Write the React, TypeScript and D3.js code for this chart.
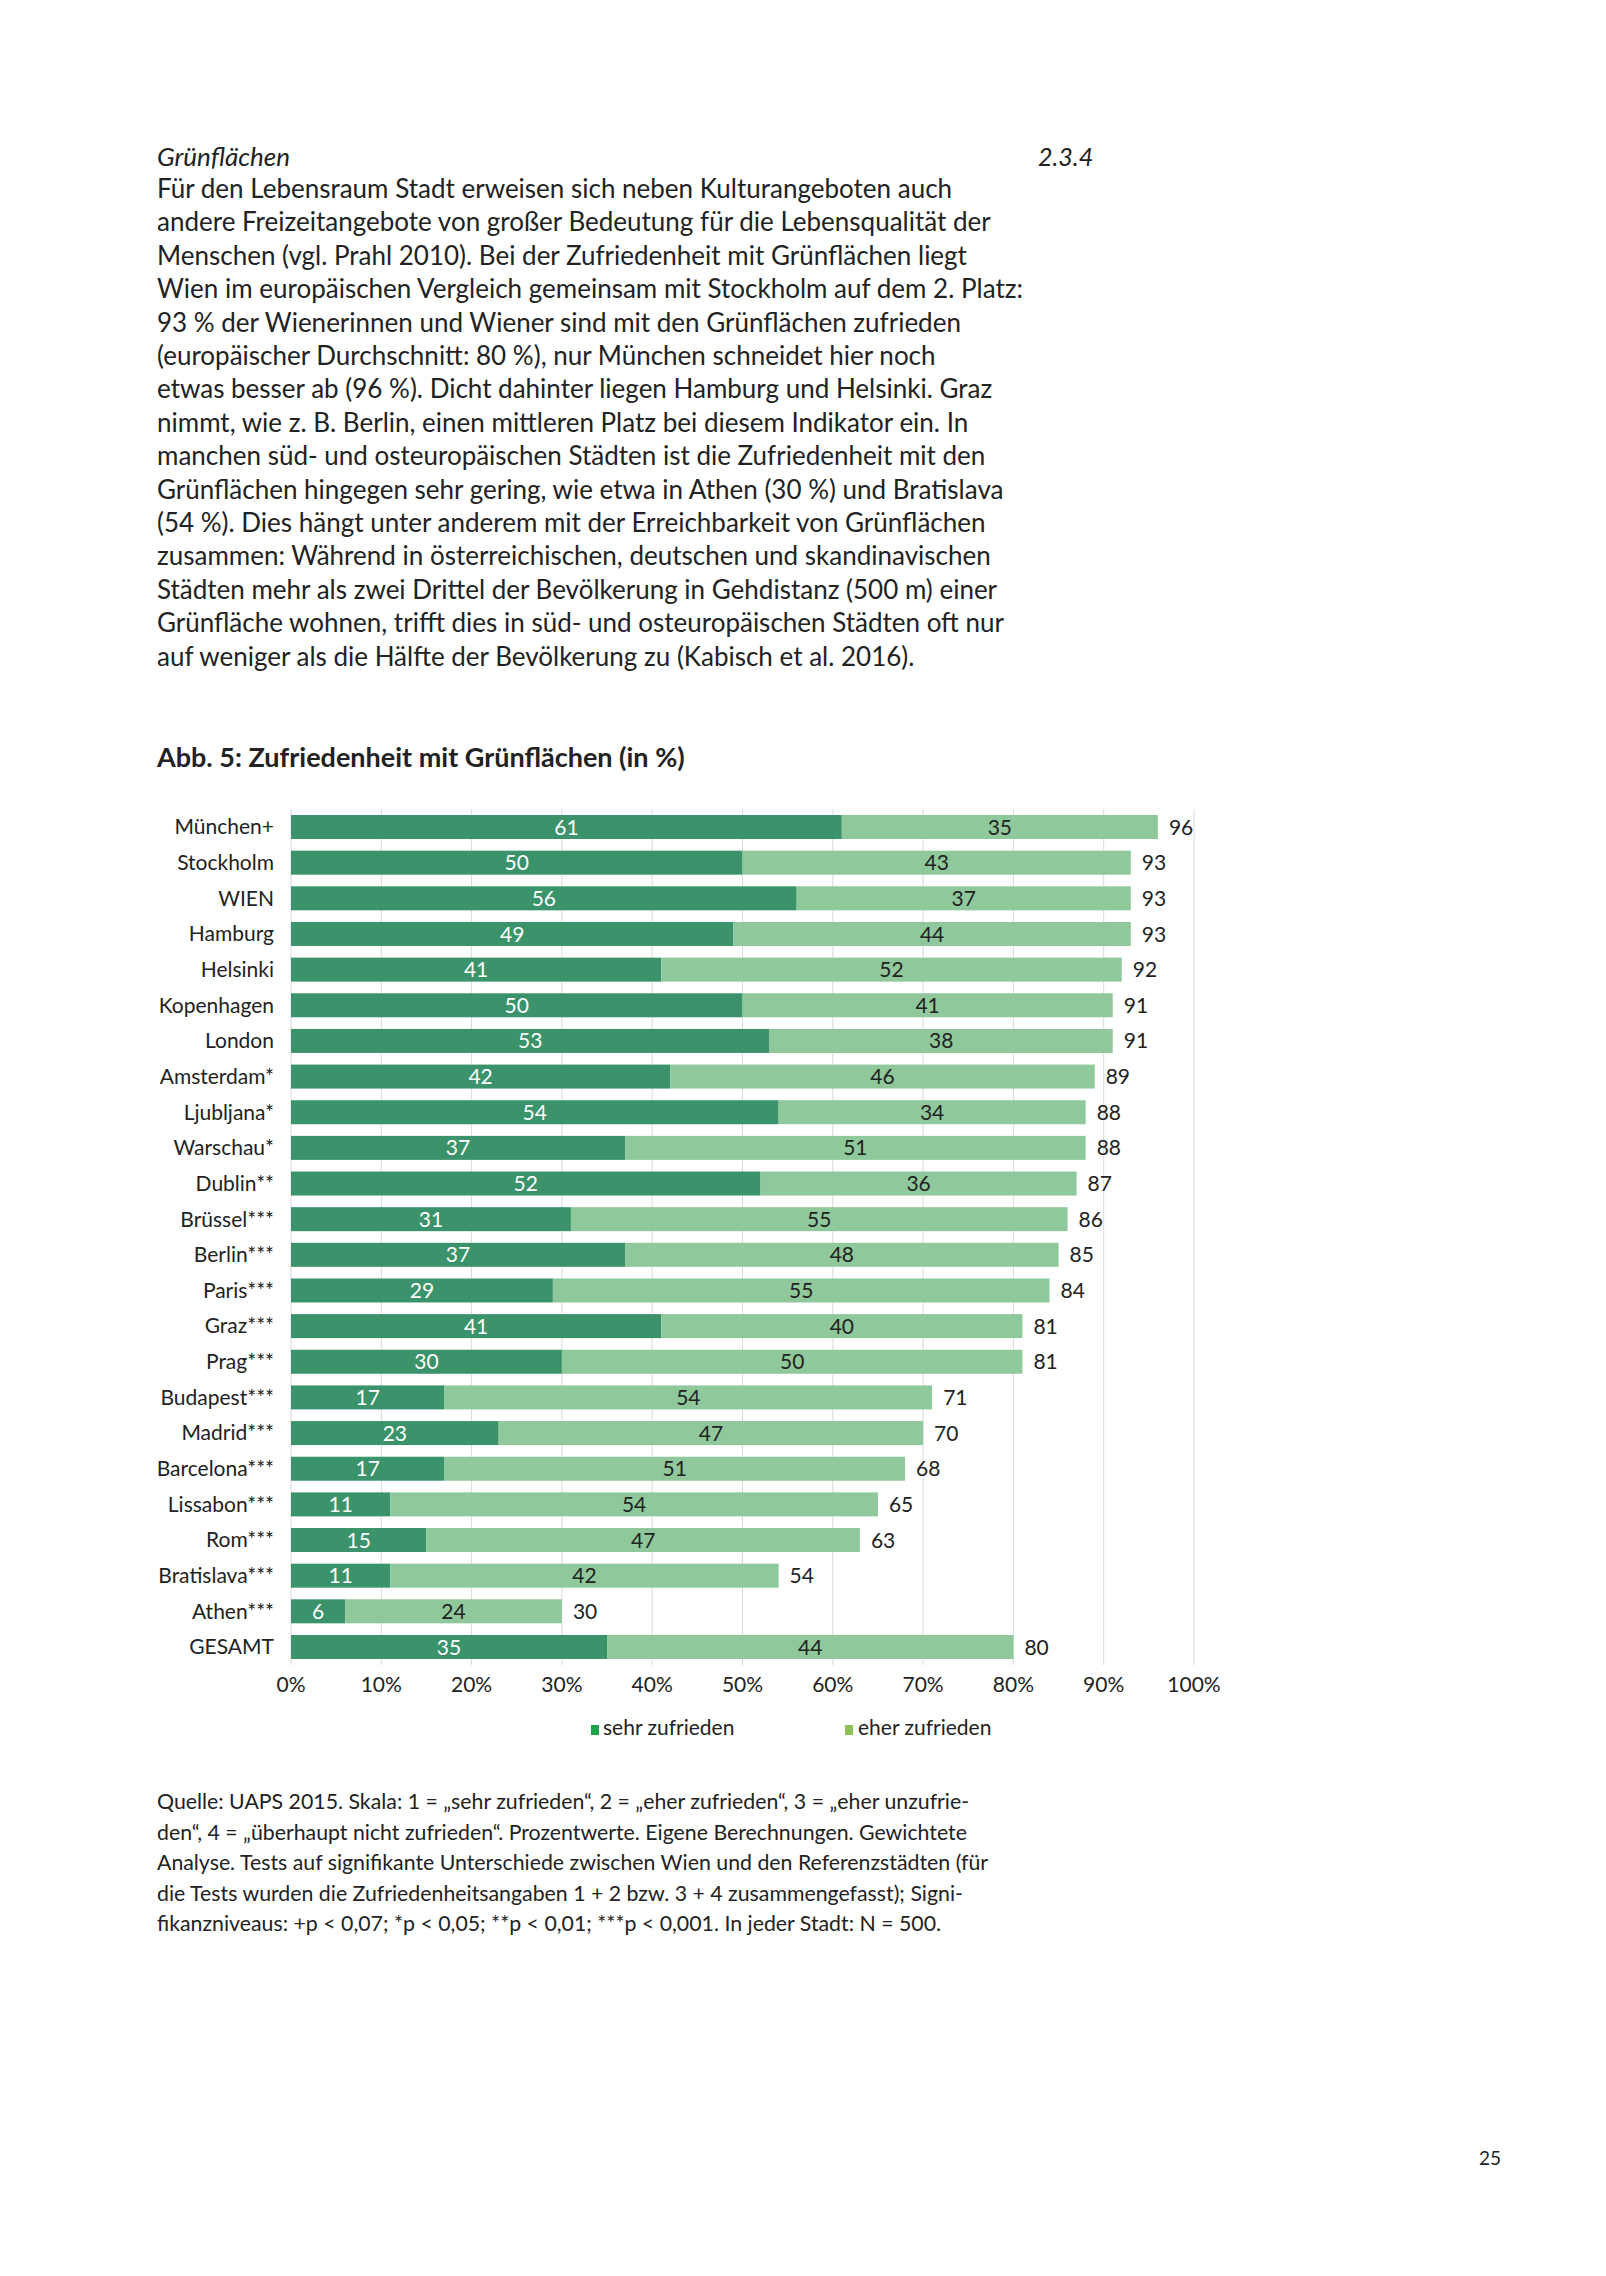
import React from "react";
import * as d3 from "d3";

const cities = ["München+", "Stockholm", "WIEN", "Hamburg", "Helsinki", "Kopenhagen", "London", "Amsterdam*", "Ljubljana*", "Warschau*", "Dublin**", "Brüssel***", "Berlin***", "Paris***", "Graz***", "Prag***", "Budapest***", "Madrid***", "Barcelona***", "Lissabon***", "Rom***", "Bratislava***", "Athen***", "GESAMT"];
const sehrZufrieden = [61, 50, 56, 49, 41, 50, 53, 42, 54, 37, 52, 31, 37, 29, 41, 30, 17, 23, 17, 11, 15, 11, 6, 35];
const eherZufrieden = [35, 43, 37, 44, 52, 41, 38, 46, 34, 51, 36, 55, 48, 55, 40, 50, 54, 47, 51, 54, 47, 42, 24, 44];
const gesamtZufrieden = [96, 93, 93, 93, 92, 91, 91, 89, 88, 88, 87, 86, 85, 84, 81, 81, 71, 70, 68, 65, 63, 54, 30, 80];
const xTicks = [0, 10, 20, 30, 40, 50, 60, 70, 80, 90, 100];
const seriesNames = ["sehr zufrieden", "eher zufrieden"];

const bodyLines = [
  "Für den Lebensraum Stadt erweisen sich neben Kulturangeboten auch",
  "andere Freizeitangebote von großer Bedeutung für die Lebensqualität der",
  "Menschen (vgl. Prahl 2010). Bei der Zufriedenheit mit Grünflächen liegt",
  "Wien im europäischen Vergleich gemeinsam mit Stockholm auf dem 2. Platz:",
  "93 % der Wienerinnen und Wiener sind mit den Grünflächen zufrieden",
  "(europäischer Durchschnitt: 80 %), nur München schneidet hier noch",
  "etwas besser ab (96 %). Dicht dahinter liegen Hamburg und Helsinki. Graz",
  "nimmt, wie z. B. Berlin, einen mittleren Platz bei diesem Indikator ein. In",
  "manchen süd- und osteuropäischen Städten ist die Zufriedenheit mit den",
  "Grünflächen hingegen sehr gering, wie etwa in Athen (30 %) und Bratislava",
  "(54 %). Dies hängt unter anderem mit der Erreichbarkeit von Grünflächen",
  "zusammen: Während in österreichischen, deutschen und skandinavischen",
  "Städten mehr als zwei Drittel der Bevölkerung in Gehdistanz (500 m) einer",
  "Grünfläche wohnen, trifft dies in süd- und osteuropäischen Städten oft nur",
  "auf weniger als die Hälfte der Bevölkerung zu (Kabisch et al. 2016).",
];

const noteLines = [
  "Quelle: UAPS 2015. Skala: 1 = „sehr zufrieden“, 2 = „eher zufrieden“, 3 = „eher unzufrie-",
  "den“, 4 = „überhaupt nicht zufrieden“. Prozentwerte. Eigene Berechnungen. Gewichtete",
  "Analyse. Tests auf signifikante Unterschiede zwischen Wien und den Referenzstädten (für",
  "die Tests wurden die Zufriedenheitsangaben 1 + 2 bzw. 3 + 4 zusammengefasst); Signi-",
  "fikanzniveaus: +p < 0,07; *p < 0,05; **p < 0,01; ***p < 0,001. In jeder Stadt: N = 500.",
];

const FONT = "Lato, 'Noto Sans', sans-serif";
const TXT = "#222222";
const DARK = "#3a936a";
const LIGHT = "#8fc89b";

export default function App() {
  const W = 1606, H = 2276;
  const x = d3.scaleLinear().domain([0, 100]).range([291, 1194]);
  const y = d3.scaleBand<string>().domain(cities).range([809.2, 1664.8]).paddingInner(0.327).paddingOuter(0.1635);
  const bw = y.bandwidth();
  const gridTop = 809, gridBottom = 1665;

  return (
    <svg width={W} height={H} style={{ position: "absolute", left: 0, top: 0, background: "#fff" }} fontFamily={FONT}>
      <rect x={0} y={0} width={W} height={H} fill="#fff" />
      {/* heading */}
      <text x={157} y={166} fontSize={26} fontStyle="italic" fill={TXT}>Grünflächen</text>
      <text x={1038} y={166} fontSize={25} fontStyle="italic" fill={TXT}>2.3.4</text>
      {bodyLines.map((l, i) => (
        <text key={i} x={157} y={198 + i * 33.4} fontSize={26} fill={TXT}>{l}</text>
      ))}
      {/* title */}
      <text x={157} y={767} fontSize={27} fontWeight="bold" fill={TXT}>Abb. 5: Zufriedenheit mit Grünflächen (in %)</text>

      {/* grid */}
      {xTicks.map((t) => (
        <line key={t} x1={x(t)} x2={x(t)} y1={gridTop} y2={gridBottom} stroke="#d9d9d9" strokeWidth={1} />
      ))}
      {xTicks.map((t) => (
        <text key={"t" + t} x={x(t)} y={1692} fontSize={21} textAnchor="middle" fill={TXT}>{t + "%"}</text>
      ))}

      {/* bars */}
      {cities.map((c, i) => {
        const y0 = y(c) as number;
        const cy = y0 + bw / 2;
        const s = sehrZufrieden[i], e = eherZufrieden[i], tot = gesamtZufrieden[i];
        return (
          <g key={c}>
            <text x={274} y={cy} dy="0.35em" fontSize={21} textAnchor="end" fill={TXT}>{c}</text>
            <rect x={x(0)} y={y0} width={x(s) - x(0)} height={bw} fill={DARK} />
            <rect x={x(s)} y={y0} width={x(tot) - x(s)} height={bw} fill={LIGHT} />
            <text x={(x(0) + x(s)) / 2} y={cy} dy="0.36em" fontSize={21} textAnchor="middle" fill="#ffffff">{s}</text>
            <text x={(x(s) + x(tot)) / 2} y={cy} dy="0.36em" fontSize={21} textAnchor="middle" fill={TXT}>{e}</text>
            <text x={x(tot) + 11} y={cy} dy="0.36em" fontSize={21} textAnchor="start" fill={TXT}>{tot}</text>
          </g>
        );
      })}

      {/* legend */}
      <rect x={591} y={1725} width={8} height={10} fill="#1fa24a" />
      <text x={603} y={1735} fontSize={21} fill={TXT}>{seriesNames[0]}</text>
      <rect x={845} y={1725} width={8} height={10} fill="#8dc153" />
      <text x={858} y={1735} fontSize={21} fill={TXT}>{seriesNames[1]}</text>

      {/* note */}
      {noteLines.map((l, i) => (
        <text key={"n" + i} x={157} y={1809 + i * 30.5} fontSize={21.3} fill={TXT}>{l}</text>
      ))}

      <text x={1479} y={2165} fontSize={19} fill={TXT}>25</text>
    </svg>
  );
}
